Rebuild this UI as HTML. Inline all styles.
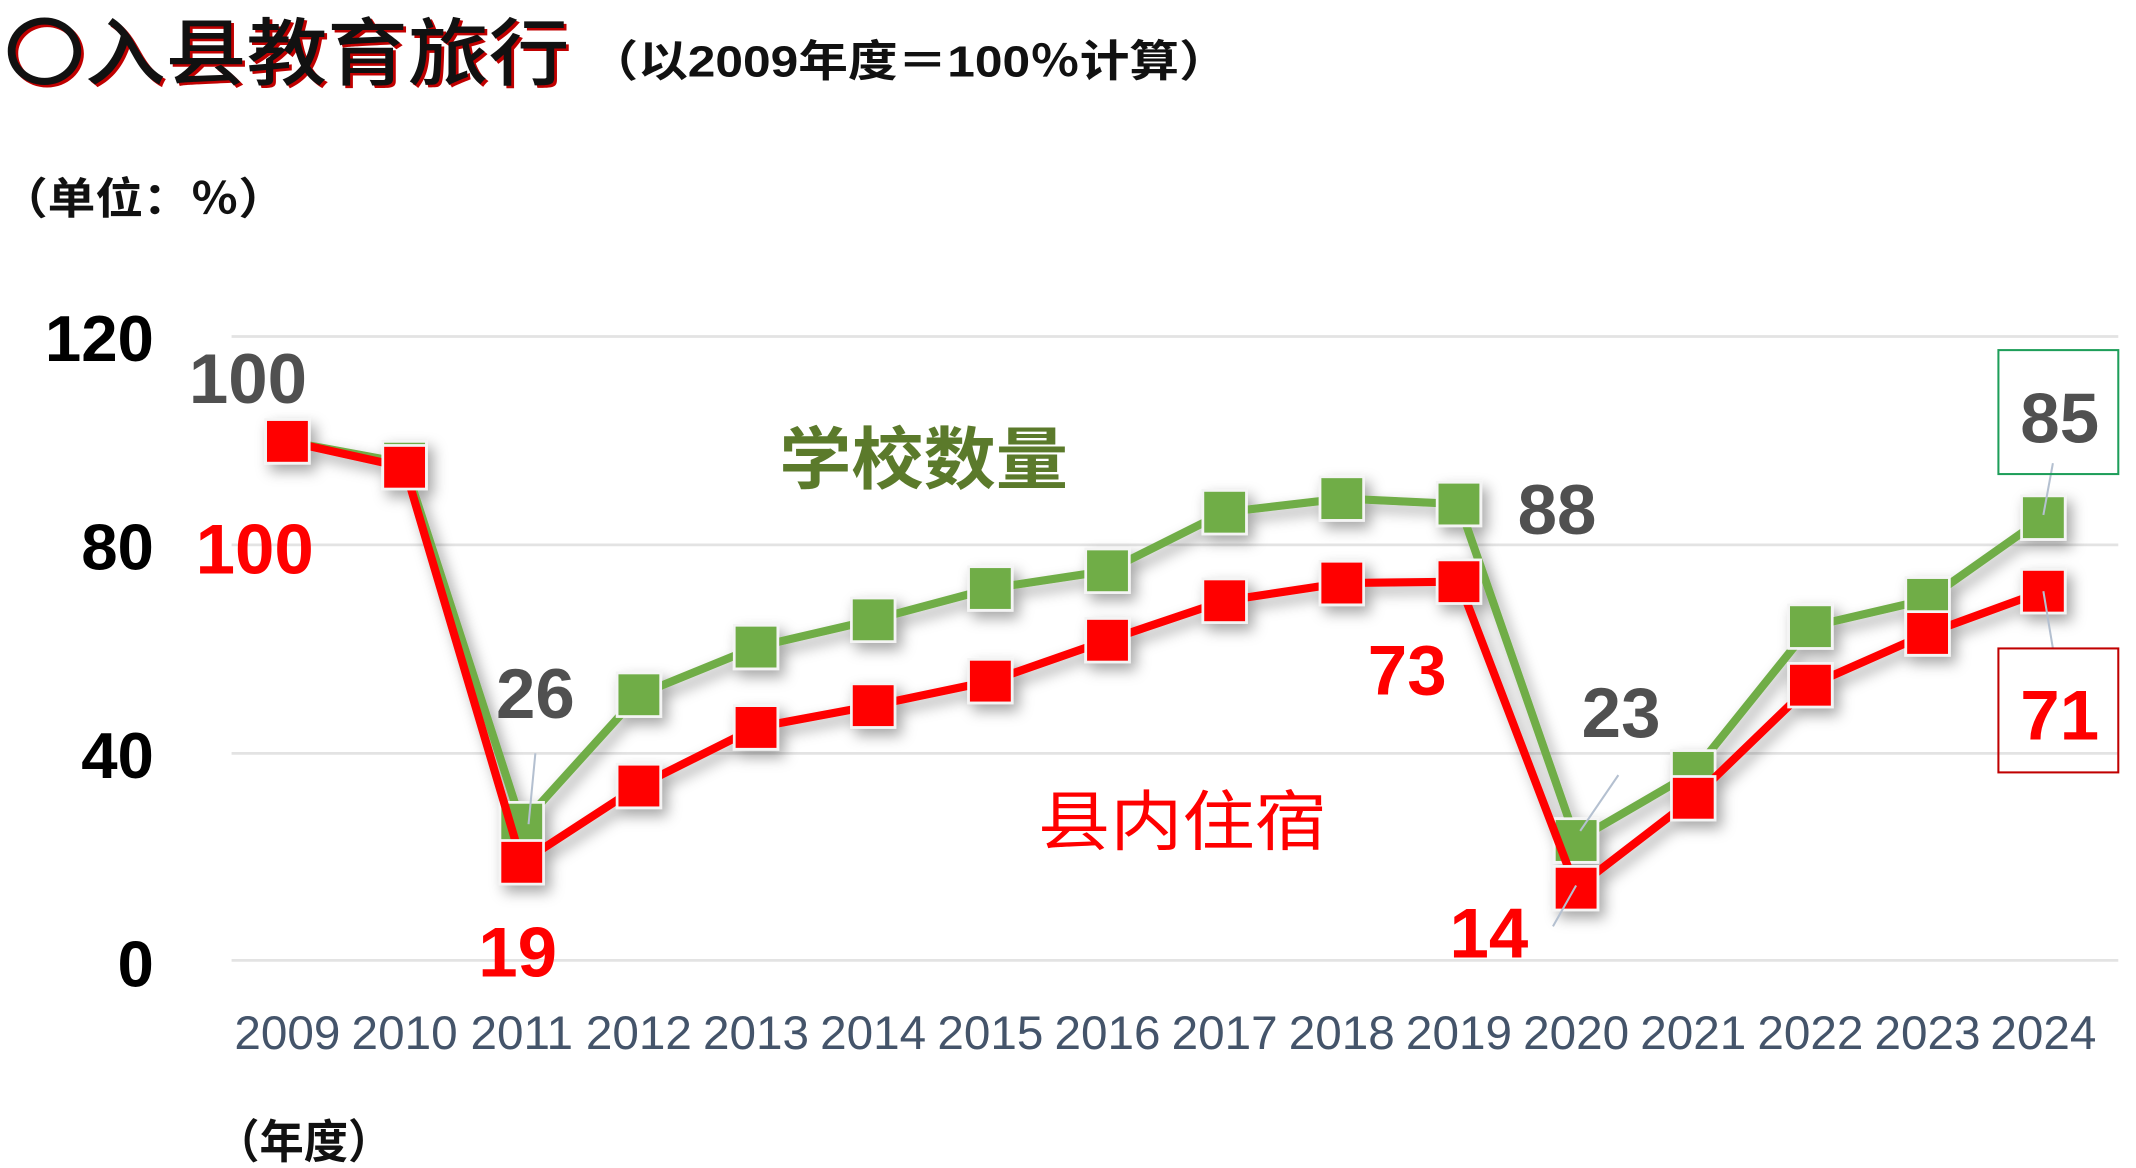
<!DOCTYPE html>
<html><head><meta charset="utf-8"><style>
html,body{margin:0;padding:0;background:#fff;}
svg{display:block;}
text{font-family:"Liberation Sans","Noto Sans CJK SC",sans-serif;}
</style></head><body>
<svg width="2136" height="1168" viewBox="0 0 1568 857.4" xmlns="http://www.w3.org/2000/svg">
<defs>
<filter id="sh" x="-50%" y="-50%" width="200%" height="200%"><feDropShadow dx="4" dy="5" stdDeviation="5" flood-color="#000" flood-opacity="0.35"/></filter>
</defs>
<text x="5" y="60" font-size="54" fill="#c00000" font-family="Noto Sans CJK SC,sans-serif" font-weight="500" textLength="415" lengthAdjust="spacingAndGlyphs">〇入县教育旅行</text>
<text x="3" y="58" font-size="54" fill="#111" font-family="Noto Sans CJK SC,sans-serif" font-weight="500" textLength="415" lengthAdjust="spacingAndGlyphs">〇入县教育旅行</text>
<text x="432" y="56" font-size="32" font-weight="bold" fill="#111" textLength="470" lengthAdjust="spacingAndGlyphs">（以2009年度＝100％计算）</text>
<text x="0" y="157" font-size="32" font-weight="bold" fill="#111" textLength="210" lengthAdjust="spacingAndGlyphs">（单位：％）</text>
<g stroke="#e3e3e3" stroke-width="2">
<line x1="170" y1="247" x2="1555" y2="247"/><line x1="170" y1="400" x2="1555" y2="400"/>
<line x1="170" y1="553" x2="1555" y2="553"/><line x1="170" y1="705" x2="1555" y2="705"/>
</g>
<g font-size="48" font-weight="bold" fill="#000" text-anchor="end">
<text x="113" y="265">120</text><text x="113" y="418">80</text><text x="113" y="571">40</text><text x="113" y="724">0</text>
</g>
<g font-size="35" fill="#44546a" text-anchor="middle">
<text x="211" y="770">2009</text><text x="297" y="770">2010</text><text x="383" y="770">2011</text><text x="469" y="770">2012</text><text x="555" y="770">2013</text><text x="641" y="770">2014</text><text x="727" y="770">2015</text><text x="813" y="770">2016</text><text x="899" y="770">2017</text><text x="985" y="770">2018</text><text x="1071" y="770">2019</text><text x="1157" y="770">2020</text><text x="1243" y="770">2021</text><text x="1329" y="770">2022</text><text x="1415" y="770">2023</text><text x="1500" y="770">2024</text>
</g>
<text x="158" y="850" font-size="34" font-weight="bold" fill="#111" textLength="130" lengthAdjust="spacingAndGlyphs">（年度）</text>
<g filter="url(#sh)">
<polyline fill="none" stroke="#70ad47" stroke-width="6" points="211,324 297,340 383,605 469,510 555,475 641,455 727,432 813,419 899,376 985,366 1071,370 1157,617 1243,567 1329,460 1415,440 1500,380"/>
<g fill="#70ad47" stroke="#f4f4f4" stroke-width="2">
<rect x="281" y="324" width="32" height="32"/><rect x="367" y="589" width="32" height="32"/><rect x="453" y="494" width="32" height="32"/><rect x="539" y="459" width="32" height="32"/><rect x="625" y="439" width="32" height="32"/><rect x="711" y="416" width="32" height="32"/><rect x="797" y="403" width="32" height="32"/><rect x="883" y="360" width="32" height="32"/><rect x="969" y="350" width="32" height="32"/><rect x="1055" y="354" width="32" height="32"/><rect x="1141" y="601" width="32" height="32"/><rect x="1227" y="551" width="32" height="32"/><rect x="1313" y="444" width="32" height="32"/><rect x="1399" y="424" width="32" height="32"/><rect x="1484" y="364" width="32" height="32"/>
</g>
<polyline fill="none" stroke="#ff0000" stroke-width="6" points="211,324 297,343 383,633 469,577 555,534 641,518 727,500 813,470 899,441 985,428 1071,427 1157,652 1243,586 1329,503 1415,465 1500,434"/>
<g fill="#ff0000" stroke="#f4f4f4" stroke-width="2">
<rect x="195" y="308" width="32" height="32"/><rect x="281" y="327" width="32" height="32"/><rect x="367" y="617" width="32" height="32"/><rect x="453" y="561" width="32" height="32"/><rect x="539" y="518" width="32" height="32"/><rect x="625" y="502" width="32" height="32"/><rect x="711" y="484" width="32" height="32"/><rect x="797" y="454" width="32" height="32"/><rect x="883" y="425" width="32" height="32"/><rect x="969" y="412" width="32" height="32"/><rect x="1055" y="411" width="32" height="32"/><rect x="1141" y="636" width="32" height="32"/><rect x="1227" y="570" width="32" height="32"/><rect x="1313" y="487" width="32" height="32"/><rect x="1399" y="449" width="32" height="32"/><rect x="1484" y="418" width="32" height="32"/>
</g>
</g>
<g stroke="#b4c0d0" stroke-width="1.5">
<line x1="393" y1="553" x2="388" y2="605"/><line x1="1188" y1="569" x2="1160" y2="610"/><line x1="1507" y1="340" x2="1500" y2="378"/><line x1="1500" y1="434" x2="1507" y2="476"/><line x1="1140" y1="680" x2="1157" y2="650"/>
</g>
<rect x="1467" y="257" width="88" height="91" fill="none" stroke="#1e9e5a" stroke-width="1.5"/>
<rect x="1467" y="476" width="88" height="91" fill="none" stroke="#c00000" stroke-width="1.5"/>
<g font-size="52" font-weight="bold" fill="#505050" text-anchor="middle">
<text x="182" y="296">100</text><text x="393" y="527">26</text><text x="1143" y="392">88</text><text x="1190" y="541">23</text><text x="1512" y="325">85</text>
</g>
<g font-size="52" font-weight="bold" fill="#ff0000" text-anchor="middle">
<text x="187" y="421">100</text><text x="380" y="717">19</text><text x="1033" y="510">73</text><text x="1093" y="703">14</text><text x="1512" y="543">71</text>
</g>
<text x="678" y="355" font-size="50" font-weight="bold" fill="#5b7a2b" text-anchor="middle" font-family="Noto Sans CJK SC,sans-serif" textLength="212" lengthAdjust="spacingAndGlyphs">学校数量</text>
<text x="868" y="620" font-size="48" fill="#ff0000" text-anchor="middle" font-family="Noto Sans CJK SC,sans-serif" textLength="212" lengthAdjust="spacingAndGlyphs">县内住宿</text>
</svg>
</body></html>
